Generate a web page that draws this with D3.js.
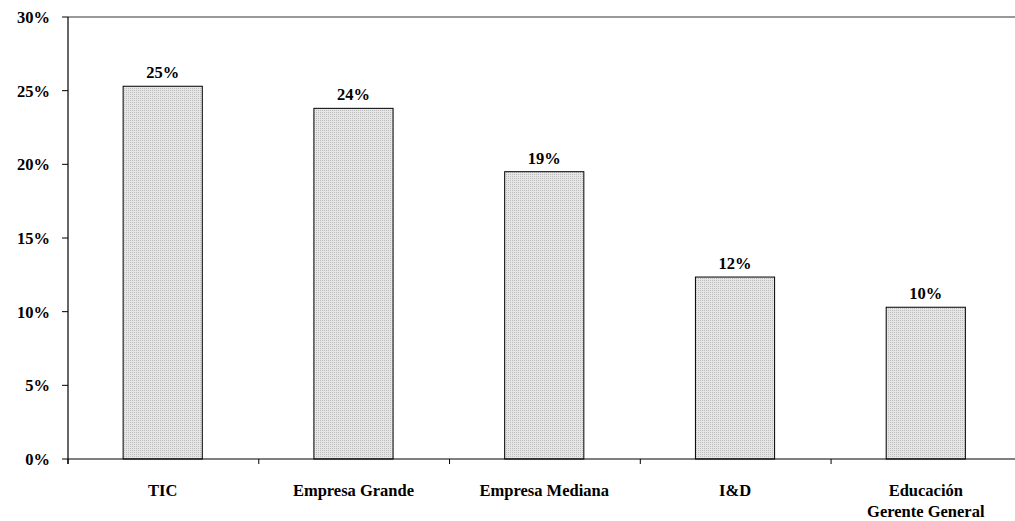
<html>
<head>
<meta charset="utf-8">
<script src="https://d3js.org/d3.v7.min.js"></script>
<style>
  html,body{margin:0;padding:0;background:#fff;overflow:hidden;}
</style>
</head>
<body>
<script>
var categories = [["TIC"], ["Empresa Grande"], ["Empresa Mediana"], ["I&D"], ["Educación", "Gerente General"]];
var values = [25.3, 23.8, 19.5, 12.35, 10.3];
var labels = ["25%", "24%", "19%", "12%", "10%"];
var yTicks = [0, 5, 10, 15, 20, 25, 30];

var W = 1015, H = 521, L = 68, R = 1020.5, T = 17, B = 459;
var svg = d3.select("body").append("svg").attr("width", W).attr("height", H)
  .style("font-family", "'Liberation Serif', 'Times New Roman', Times, 'DejaVu Serif', serif")
  .style("font-weight", "bold").style("font-size", "16.5px");

var defs = svg.append("defs");
var pat = defs.append("pattern").attr("id", "dots").attr("width", 2).attr("height", 2)
  .attr("patternUnits", "userSpaceOnUse");
pat.append("rect").attr("width", 2).attr("height", 2).attr("fill", "#e6e6e6");
pat.append("rect").attr("width", 1).attr("height", 1).attr("fill", "#bdbdbd");

var x = d3.scaleBand().domain(d3.range(values.length)).range([L, R]).paddingInner(0.585).paddingOuter(0.289);
var y = d3.scaleLinear().domain([0, 30]).range([B, T]);

// top frame line
svg.append("line").attr("x1", L).attr("x2", W).attr("y1", T).attr("y2", T)
  .attr("stroke", "#777").attr("stroke-width", 1.5);

svg.selectAll("rect.bar").data(values).enter().append("rect").attr("class", "bar")
  .attr("x", (d, i) => x(i)).attr("width", x.bandwidth())
  .attr("y", d => y(d)).attr("height", d => B - y(d))
  .attr("fill", "url(#dots)").attr("stroke", "#000").attr("stroke-width", 1);

svg.selectAll("text.val").data(values).enter().append("text").attr("class", "val")
  .attr("x", (d, i) => x(i) + x.bandwidth() / 2).attr("y", d => y(d) - 8)
  .attr("text-anchor", "middle").text((d, i) => labels[i]);

// y axis
svg.append("line").attr("x1", L).attr("x2", L).attr("y1", T).attr("y2", B + 5).attr("stroke", "#000").attr("stroke-width", 1.2);
svg.selectAll("line.yt").data(yTicks).enter().append("line")
  .attr("x1", L - 6).attr("x2", L).attr("y1", d => y(d)).attr("y2", d => y(d)).attr("stroke", "#000");
svg.selectAll("text.yl").data(yTicks).enter().append("text")
  .attr("x", 50).attr("y", d => y(d) + 6).attr("text-anchor", "end").text(d => d + "%");

// x axis
svg.append("line").attr("x1", L).attr("x2", W).attr("y1", B).attr("y2", B).attr("stroke", "#000").attr("stroke-width", 1.2);
var step = x.step();
svg.selectAll("line.xt").data(d3.range(values.length)).enter().append("line")
  .attr("x1", d => L + d * step).attr("x2", d => L + d * step).attr("y1", B).attr("y2", B + 5).attr("stroke", "#000");

svg.selectAll("text.xl").data(categories).enter().append("text")
  .attr("x", (d, i) => x(i) + x.bandwidth() / 2).attr("y", 496).attr("text-anchor", "middle")
  .each(function (d) {
    var t = d3.select(this);
    d.forEach((s, k) => t.append("tspan").attr("x", t.attr("x")).attr("dy", k ? 21 : 0).text(s));
  });
</script>
</body>
</html>
